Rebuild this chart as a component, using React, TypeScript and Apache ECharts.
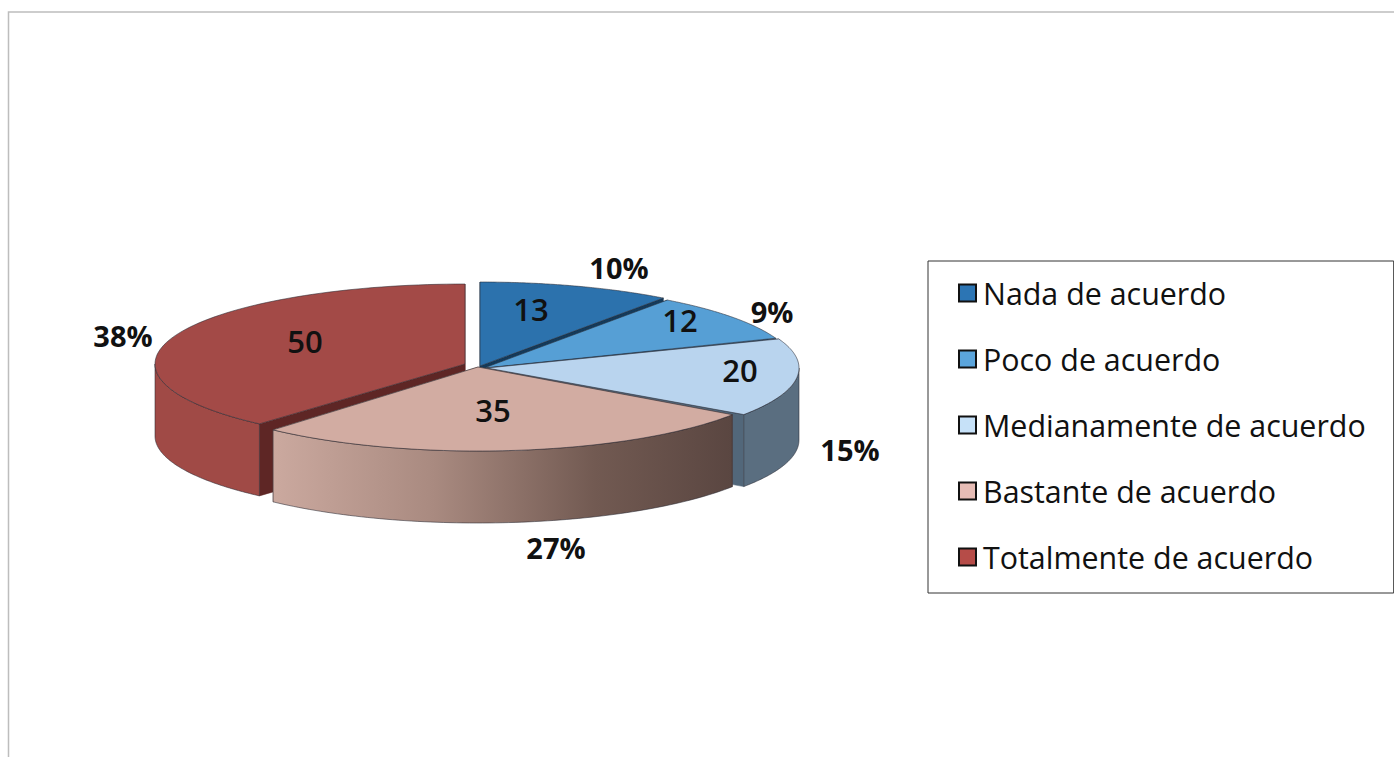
import React, { useEffect, useRef } from "react";
import * as echarts from "echarts";

const CATEGORIES = ["Nada de acuerdo", "Poco de acuerdo", "Medianamente de acuerdo", "Bastante de acuerdo", "Totalmente de acuerdo"];
const VALUES = [13, 12, 20, 35, 50];

const TOTAL = VALUES.reduce((a, b) => a + b, 0);
const FONT = "'Open Sans', sans-serif";
const DEPTH = 72;

const GEOMETRY = [
  { cx: 480, cy: 366, rx: 312, ry: 84 },
  { cx: 484, cy: 368, rx: 312, ry: 84 },
  { cx: 487, cy: 368, rx: 312, ry: 82 },
  { cx: 478, cy: 367, rx: 309, ry: 84 },
  { cx: 465, cy: 364, rx: 310, ry: 80 },
];
const TOP_COLORS = ["#2c72ad", "#569fd5", "#b9d4ee", "#d2aca2", "#a34a47"];
const CUT_COLORS = ["#143a5a", "#1f4a6b", "#52677a", "#8a6a60", "#5e2625"];
const LEGEND_COLORS = ["#2c75b4", "#5ba5dc", "#c6e1f8", "#e6bcb5", "#b64c48"];
const DRAW_ORDER = [1, 2, 3, 5, 4];
const INNER_LABELS = [[531, 309], [680, 320], [740, 370], [493, 410], [305, 341]];
const OUTER_LABELS = [[619, 267], [772, 311], [850, 449], [556, 547], [123, 335]];

function wallFill(i: number) {
  if (i === 3) {
    return new echarts.graphic.LinearGradient(0, 0, 1, 0, [
      { offset: 0, color: "#cba99f" },
      { offset: 0.35, color: "#a98a80" },
      { offset: 0.7, color: "#725a52" },
      { offset: 1, color: "#5a4641" },
    ]);
  }
  return ["#1f4e79", "#2a5d85", "#5a6e80", "#8a6a60", "#a04a46"][i];
}

function renderSlice(i: number) {
  return (_params: any, api: any) => {
    const value = api.value(0);
    const before = VALUES.slice(0, i).reduce((a, b) => a + b, 0);
    const start = (before / TOTAL) * Math.PI * 2;
    const end = ((before + value) / TOTAL) * Math.PI * 2;
    const g = GEOMETRY[i];
    const pt = (a: number, dz = 0) => [g.cx + g.rx * Math.sin(a), g.cy - g.ry * Math.cos(a) + dz];
    const stroke = "rgba(40,40,50,0.55)";
    const steps = 80;
    const arc: number[][] = [];
    for (let k = 0; k <= steps; k++) arc.push(pt(start + ((end - start) * k) / steps));
    const top = [[g.cx, g.cy], ...arc];

    const cut = (a: number) => ({
      type: "polygon",
      shape: { points: [[g.cx, g.cy], pt(a), pt(a, DEPTH), [g.cx, g.cy + DEPTH]] },
      style: { fill: CUT_COLORS[i], stroke: CUT_COLORS[i], lineWidth: 0.5 },
    });

    const children: any[] = [cut(start), cut(end)];

    const wallStart = Math.max(start, Math.PI / 2);
    const wallEnd = Math.min(end, (Math.PI * 3) / 2);
    if (wallEnd > wallStart) {
      const upper: number[][] = [];
      const lower: number[][] = [];
      for (let k = 0; k <= steps; k++) {
        const a = wallStart + ((wallEnd - wallStart) * k) / steps;
        upper.push(pt(a));
        lower.unshift(pt(a, DEPTH));
      }
      children.push({
        type: "polygon",
        shape: { points: [...upper, ...lower] },
        style: { fill: wallFill(i), stroke, lineWidth: 1 },
      });
    }
    children.push({
      type: "polygon",
      shape: { points: top },
      style: { fill: TOP_COLORS[i], stroke, lineWidth: 1 },
    });
    children.push({
      type: "text",
      style: {
        text: String(value),
        x: INNER_LABELS[i][0],
        y: INNER_LABELS[i][1],
        fill: "#111",
        fontFamily: FONT,
        fontSize: 31,
        fontWeight: 600,
        align: "center",
        verticalAlign: "middle",
      },
    });
    children.push({
      type: "text",
      style: {
        text: `${Math.round((value / TOTAL) * 100)}%`,
        x: OUTER_LABELS[i][0],
        y: OUTER_LABELS[i][1],
        fill: "#111",
        fontFamily: FONT,
        fontSize: 29,
        fontWeight: 700,
        align: "center",
        verticalAlign: "middle",
      },
    });
    return { type: "group", children };
  };
}

export default function App() {
  const ref = useRef<HTMLDivElement>(null);
  useEffect(() => {
    const chart = echarts.init(ref.current!, null, { renderer: "svg" });
    chart.setOption({
      animation: false,
      backgroundColor: "#ffffff",
      legend: {
        left: 928,
        top: 261,
        orient: "vertical",
        icon: "rect",
        selectedMode: false,
        data: CATEGORIES,
        itemWidth: 17,
        itemHeight: 17,
        itemGap: 36,
        backgroundColor: "#ffffff",
        borderColor: "#333333",
        borderWidth: 1,
        padding: [17, 28, 21, 30],
        itemStyle: { borderColor: "#111111", borderWidth: 2 },
        textStyle: { fontFamily: FONT, fontSize: 30.4, lineHeight: 30, color: "#111111", padding: [0, 0, 0, 2] },
      },
      graphic: [
        {
          type: "polyline",
          shape: { points: [[8.5, 757], [8.5, 12], [1394, 12]] },
          style: { fill: "none", stroke: "#bdbdbd", lineWidth: 1.5 },
        },
      ],
      series: CATEGORIES.map((name, i) => ({
        type: "custom",
        name,
        coordinateSystem: "none",
        z: DRAW_ORDER[i] + 2,
        itemStyle: { color: LEGEND_COLORS[i] },
        data: [[VALUES[i]]],
        encode: { value: 0 },
        renderItem: renderSlice(i),
        silent: true,
      })),
    });
    return () => chart.dispose();
  }, []);
  return <div ref={ref} style={{ position: "absolute", left: 0, top: 0, width: 1394, height: 757 }} />;
}
